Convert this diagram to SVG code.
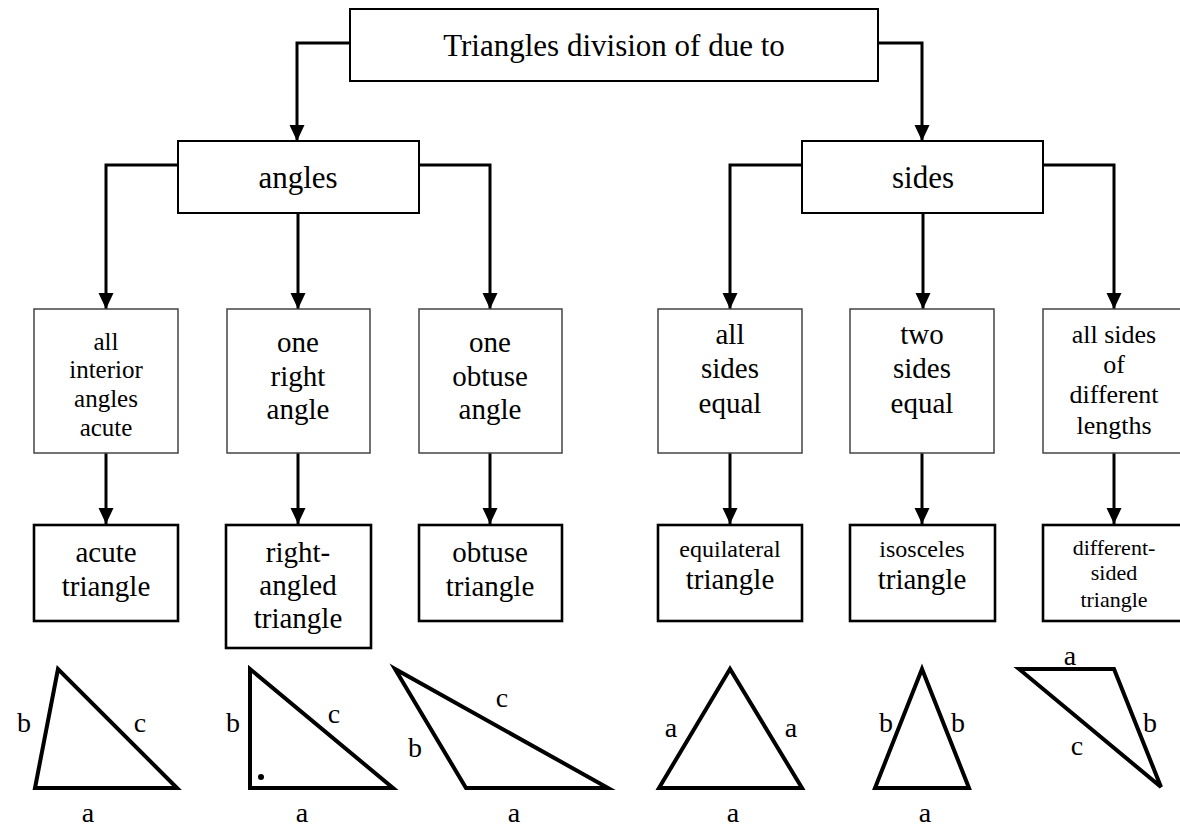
<svg xmlns="http://www.w3.org/2000/svg" width="1180" height="828" viewBox="0 0 1180 828" font-family="'Liberation Serif', Tinos, 'Times New Roman', 'DejaVu Serif', serif">
<defs>
<marker id="arr" markerUnits="userSpaceOnUse" markerWidth="16" markerHeight="16" viewBox="0 0 16 16" refX="16" refY="8" orient="auto">
<path d="M0,0.5 L16,8 L0,15.5 z" fill="#000"/>
</marker>
<style>
text{font-family:'Liberation Serif',Tinos,'Times New Roman','DejaVu Serif',serif;fill:#000;text-anchor:middle}
.hd{fill:#fff;stroke:#000;stroke-width:2}
.md{fill:#fff;stroke:#444;stroke-width:1.5}
.bt{fill:#fff;stroke:#000;stroke-width:2.6}
.con{fill:none;stroke:#000;stroke-width:3}
.tri{fill:none;stroke:#000;stroke-width:4;stroke-linejoin:miter}
.lb{font-size:28px}
</style>
</defs>
<rect width="1180" height="828" fill="#fff"/>
<g id="connectors">
<path class="con" d="M350,43 H297 V141" marker-end="url(#arr)"/>
<path class="con" d="M878,43 H922 V141" marker-end="url(#arr)"/>
<path class="con" d="M178,165 H106 V309" marker-end="url(#arr)"/>
<path class="con" d="M298,213 V309" marker-end="url(#arr)"/>
<path class="con" d="M419,165 H490 V309" marker-end="url(#arr)"/>
<path class="con" d="M802,165 H730 V309" marker-end="url(#arr)"/>
<path class="con" d="M923,213 V309" marker-end="url(#arr)"/>
<path class="con" d="M1043,165 H1114 V309" marker-end="url(#arr)"/>
<path class="con" d="M106,453 V524" marker-end="url(#arr)"/>
<path class="con" d="M298,453 V524" marker-end="url(#arr)"/>
<path class="con" d="M490,453 V524" marker-end="url(#arr)"/>
<path class="con" d="M730,453 V524" marker-end="url(#arr)"/>
<path class="con" d="M922,453 V524" marker-end="url(#arr)"/>
<path class="con" d="M1114,453 V524" marker-end="url(#arr)"/>
</g>
<g id="root"><rect class="hd" x="350" y="9" width="528" height="72"/><text x="614" y="56" font-size="31">Triangles division of due to</text></g>
<g id="angles"><rect class="hd" x="178" y="141" width="241" height="72"/><text x="298" y="188" font-size="31">angles</text></g>
<g id="sides"><rect class="hd" x="802" y="141" width="241" height="72"/><text x="923" y="188" font-size="31">sides</text></g>
<g id="c1"><rect class="md" x="34" y="309" width="144" height="144"/><text font-size="25"><tspan x="106" y="350">all</tspan><tspan x="106" y="378">interior</tspan><tspan x="106" y="407">angles</tspan><tspan x="106" y="436">acute</tspan></text></g>
<g id="c2"><rect class="md" x="227" y="309" width="143" height="144"/><text font-size="29"><tspan x="298" y="352">one</tspan><tspan x="298" y="386">right</tspan><tspan x="298" y="419">angle</tspan></text></g>
<g id="c3"><rect class="md" x="419" y="309" width="143" height="144"/><text font-size="29"><tspan x="490" y="352">one</tspan><tspan x="490" y="386">obtuse</tspan><tspan x="490" y="419">angle</tspan></text></g>
<g id="c4"><rect class="md" x="658" y="309" width="144" height="144"/><text font-size="29"><tspan x="730" y="344">all</tspan><tspan x="730" y="378">sides</tspan><tspan x="730" y="413">equal</tspan></text></g>
<g id="c5"><rect class="md" x="850" y="309" width="144" height="144"/><text font-size="29"><tspan x="922" y="344">two</tspan><tspan x="922" y="378">sides</tspan><tspan x="922" y="413">equal</tspan></text></g>
<g id="c6"><rect class="md" x="1043" y="309" width="144" height="144"/><text font-size="26"><tspan x="1114" y="343">all sides</tspan><tspan x="1114" y="373">of</tspan><tspan x="1114" y="403">different</tspan><tspan x="1114" y="434">lengths</tspan></text></g>
<g id="t1"><rect class="bt" x="34" y="525" width="144" height="96"/><text font-size="29"><tspan x="106" y="562">acute</tspan><tspan x="106" y="596">triangle</tspan></text></g>
<g id="t2"><rect class="bt" x="226" y="525" width="145" height="123"/><text font-size="29"><tspan x="298" y="562">right-</tspan><tspan x="298" y="595">angled</tspan><tspan x="298" y="628">triangle</tspan></text></g>
<g id="t3"><rect class="bt" x="419" y="525" width="143" height="96"/><text font-size="29"><tspan x="490" y="562">obtuse</tspan><tspan x="490" y="596">triangle</tspan></text></g>
<g id="t4"><rect class="bt" x="658" y="525" width="144" height="96"/><text><tspan x="730" y="557" font-size="24">equilateral</tspan><tspan x="730" y="589" font-size="29">triangle</tspan></text></g>
<g id="t5"><rect class="bt" x="850" y="525" width="145" height="96"/><text><tspan x="922" y="557" font-size="24">isosceles</tspan><tspan x="922" y="589" font-size="29">triangle</tspan></text></g>
<g id="t6"><rect class="bt" x="1043" y="525" width="145" height="96"/><text font-size="22"><tspan x="1114" y="555">different-</tspan><tspan x="1114" y="580">sided</tspan><tspan x="1114" y="607">triangle</tspan></text></g>
<g id="fig1"><path class="tri" d="M58,669 L35,788 L177,788 Z"/><text class="lb" x="24" y="732">b</text><text class="lb" x="140" y="732">c</text><text class="lb" x="88" y="822">a</text></g>
<g id="fig2"><path class="tri" d="M250,669 L250,788 L393,788 Z"/><circle cx="261" cy="777" r="3"/><text class="lb" x="233" y="732">b</text><text class="lb" x="334" y="723">c</text><text class="lb" x="302" y="822">a</text></g>
<g id="fig3"><path class="tri" d="M395,669 L466,788 L608,788 Z"/><text class="lb" x="502" y="707">c</text><text class="lb" x="415" y="757">b</text><text class="lb" x="514" y="822">a</text></g>
<g id="fig4"><path class="tri" d="M730,669 L659,788 L802,788 Z"/><text class="lb" x="671" y="737">a</text><text class="lb" x="791" y="737">a</text><text class="lb" x="733" y="822">a</text></g>
<g id="fig5"><path class="tri" d="M922,669 L875,788 L969,788 Z"/><text class="lb" x="886" y="732">b</text><text class="lb" x="958" y="732">b</text><text class="lb" x="925" y="822">a</text></g>
<g id="fig6"><path class="tri" d="M1019,669 L1114,669 L1161,787 Z"/><text class="lb" x="1070" y="665">a</text><text class="lb" x="1150" y="732">b</text><text class="lb" x="1077" y="755">c</text></g>
</svg>
